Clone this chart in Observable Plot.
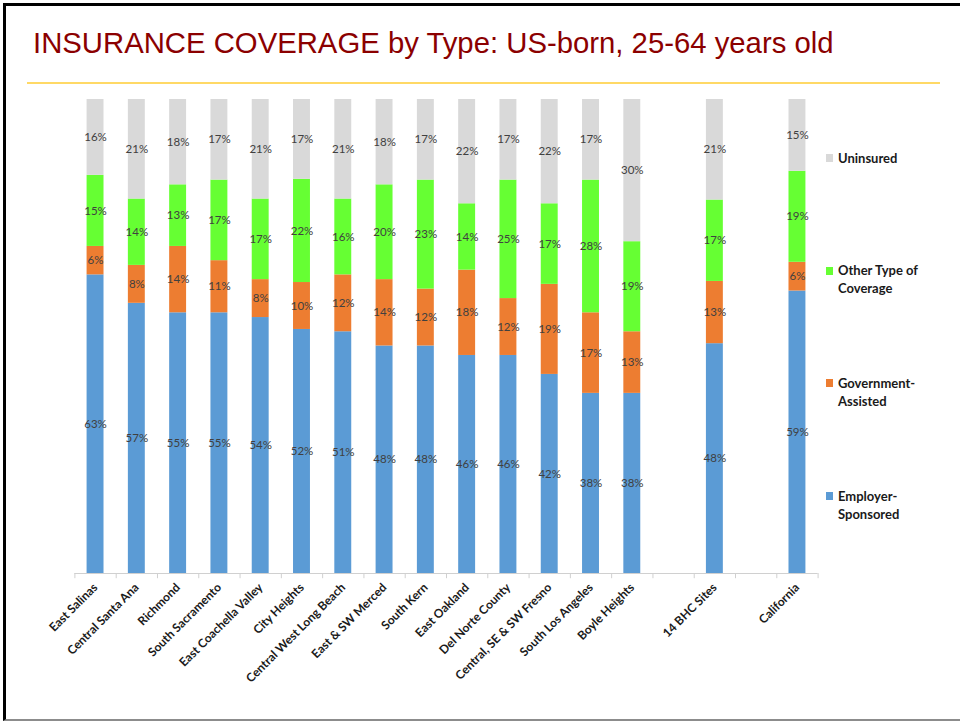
<!DOCTYPE html>
<html>
<head>
<meta charset="utf-8">
<script src="https://cdn.jsdelivr.net/npm/d3@7"></script>
<script src="https://cdn.jsdelivr.net/npm/@observablehq/plot@0.6"></script>
<style>
  html, body { margin: 0; padding: 0; background: #fff; }
  #page { position: relative; width: 960px; height: 721px; overflow: hidden; background: #fff; }
  #frame { position: absolute; left: 3px; top: 3px; width: 970px; height: 713px;
           border-top: 3px solid #000; border-left: 3px solid #000; border-bottom: 2px solid #8c8c8c; }
  #title { position: absolute; left: 33px; top: 28.3px; font-family: "Liberation Sans", Arial, sans-serif;
           font-size: 29.3px; line-height: 29.3px; color: #8b0000; white-space: nowrap; }
  #rule { position: absolute; left: 27px; top: 82px; width: 913px; height: 2px; background: #ffd966; }
  #chart { position: absolute; left: 0; top: 90px; }
  .leg { position: absolute; left: 838px; font-family: Lato, "Open Sans", sans-serif; font-weight: bold;
         font-size: 13px; line-height: 18px; color: #1a1a1a; white-space: nowrap; }
  .sw { position: absolute; left: 826px; width: 7px; height: 8px; }
</style>
</head>
<body>
<div id="page">
  <div id="frame"></div>
  <div id="title">INSURANCE COVERAGE by Type: US-born, 25-64 years old</div>
  <div id="rule"></div>
  <div id="chart"></div>
  <div id="legend"></div>
</div>
<script>
// Categories (two blank slots separate the site groups from the totals)
const categories = ["East Salinas", "Central Santa Ana", "Richmond", "South Sacramento", "East Coachella Valley",
  "City Heights", "Central West Long Beach", "East & SW Merced", "South Kern", "East Oakland",
  "Del Norte County", "Central, SE & SW Fresno", "South Los Angeles", "Boyle Heights", " ",
  "14 BHC Sites", "  ", "California"];
const barCategories = categories.filter(c => c.trim() !== "");

const types = ["Employer-Sponsored", "Government-Assisted", "Other Type of Coverage", "Uninsured"];
const colors = ["#5b9bd5", "#ed7d31", "#66ff33", "#d9d9d9"];

const employer   = [63, 57, 55, 55, 54, 52, 51, 48, 48, 46, 46, 42, 38, 38, 48, 59];
const government = [ 6,  8, 14, 11,  8, 10, 12, 14, 12, 18, 12, 19, 17, 13, 13,  6];
const other      = [15, 14, 13, 17, 17, 22, 16, 20, 23, 14, 25, 17, 28, 19, 17, 19];
const uninsured  = [16, 21, 18, 17, 21, 17, 21, 18, 17, 22, 17, 22, 17, 30, 21, 15];

const series = [employer, government, other, uninsured];
const data = [];
barCategories.forEach((cat, i) => {
  types.forEach((t, j) => data.push({cat, type: t, value: series[j][i]}));
});

const W = 960, H = 628, mL = 74.4, mR = 142.4, mT = 9, mB = 145;
const step = (W - mL - mR) / categories.length;

const chart = Plot.plot({
  width: W, height: H,
  marginLeft: mL, marginRight: mR, marginTop: mT, marginBottom: mB,
  style: {background: "transparent", overflow: "visible"},
  x: {domain: categories, paddingInner: 0.59, paddingOuter: 0.295, round: false, axis: null, label: null},
  y: {domain: [0, 1], axis: null},
  color: {domain: types, range: colors},
  marks: [
    Plot.barY(data, Plot.stackY({offset: "normalize", x: "cat", y: "value", fill: "type", z: "type"})),
    Plot.text(data, Plot.stackY({offset: "normalize", x: "cat", y: "value", z: "type",
      text: d => d.value + "%", fill: "#404040", fontSize: 11.5,
      fontFamily: "Lato, 'Open Sans', sans-serif"})),
    Plot.ruleY([0], {stroke: "#d0d0d0", strokeWidth: 1}),
    Plot.ruleX(categories, {x: d => d, y1: 0, y2: -0.011, dx: -step / 2, stroke: "#d0d0d0"}),
    Plot.ruleX(categories.slice(-1), {x: d => d, y1: 0, y2: -0.011, dx: step / 2, stroke: "#d0d0d0"}),
    Plot.axisX({tickRotate: -45, tickSize: 0, tickPadding: 12, fontSize: 12, fontWeight: "bold",
      fontFamily: "Lato, 'Open Sans', sans-serif", fill: "#1a1a1a", label: null, tickFormat: d => d.trim()})
  ]
});
document.getElementById("chart").appendChild(chart);

// Legend (HTML, to the right of the plot)
const legendItems = [
  {type: "Uninsured", lines: ["Uninsured"], top: 149, sw: 154},
  {type: "Other Type of Coverage", lines: ["Other Type of", "Coverage"], top: 261, sw: 267},
  {type: "Government-Assisted", lines: ["Government-", "Assisted"], top: 374, sw: 379},
  {type: "Employer-Sponsored", lines: ["Employer-", "Sponsored"], top: 487, sw: 492}
];
const leg = document.getElementById("legend");
legendItems.forEach(item => {
  const sq = document.createElement("div");
  sq.className = "sw";
  sq.style.top = item.sw + "px";
  sq.style.background = colors[types.indexOf(item.type)];
  leg.appendChild(sq);
  const tx = document.createElement("div");
  tx.className = "leg";
  tx.style.top = item.top + "px";
  tx.innerHTML = item.lines.join("<br>");
  leg.appendChild(tx);
});
</script>
</body>
</html>
